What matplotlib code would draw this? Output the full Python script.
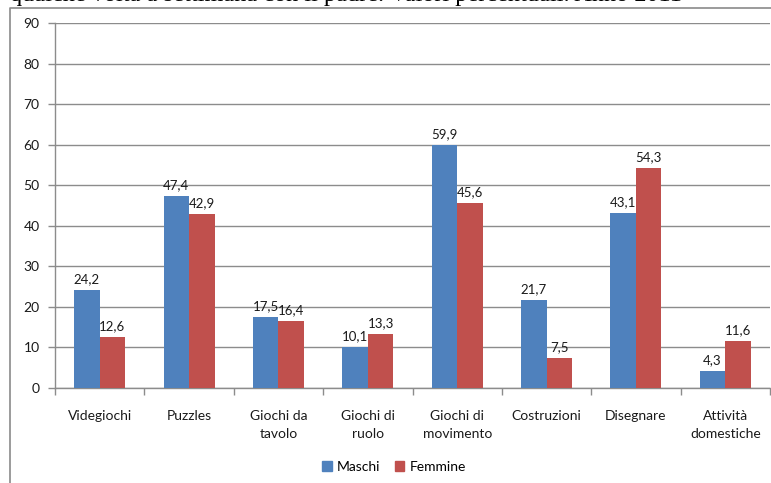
import matplotlib.pyplot as plt
import numpy as np
from matplotlib.lines import Line2D
from matplotlib.patches import Patch

# ---------- data ----------
categories = ["Videgiochi", "Puzzles", "Giochi da\ntavolo", "Giochi di\nruolo",
              "Giochi di\nmovimento", "Costruzioni", "Disegnare", "Attività\ndomestiche"]
maschi = [24.2, 47.4, 17.5, 10.1, 59.9, 21.7, 43.1, 4.3]
femmine = [12.6, 42.9, 16.4, 13.3, 45.6, 7.5, 54.3, 11.6]
series_names = ["Maschi", "Femmine"]
caption = "qualche volta a settimana con il padre. Valori percentuali. Anno 2011"

BLUE = "#4F81BD"
RED = "#C0504D"
GRID = "#8C8C8C"
FONT = "Lato"

W, H = 771, 483
fig = plt.figure(figsize=(W / 100, H / 100), dpi=100)

# plot area in pixel coordinates
left, right, top, bottom = 55, 770, 23, 388
ax = fig.add_axes([left / W, 1 - bottom / H, (right - left) / W, (bottom - top) / H])

x = np.arange(len(categories))
bw = 0.285
b1 = ax.bar(x - bw / 2, maschi, bw, color=BLUE, zorder=3)
b2 = ax.bar(x + bw / 2, femmine, bw, color=RED, zorder=3)

for bars, vals in ((b1, maschi), (b2, femmine)):
    for rect, v in zip(bars, vals):
        ax.text(rect.get_x() + rect.get_width() / 2, v + 1.2, f"{v:.1f}".replace(".", ","),
                ha="center", va="bottom", fontsize=9.5, family=FONT, color="#1a1a1a")

ax.set_xlim(-0.5, len(categories) - 0.5)
ax.set_ylim(0, 90)
ax.set_yticks(range(0, 91, 10))
ax.yaxis.grid(True, color=GRID, linewidth=1, zorder=0)
ax.set_axisbelow(True)

# boundaries get tick marks, category centres get the labels
ax.set_xticks(np.arange(-0.5, len(categories)), labels=[])
ax.set_xticks(x, labels=categories, minor=True)
ax.tick_params(axis="x", which="major", length=5, color=GRID, width=1)
ax.tick_params(axis="x", which="minor", length=0, pad=16)
ax.tick_params(axis="y", length=5, color=GRID, width=1, pad=6)
for lab in ax.get_xticklabels(minor=True) + ax.get_yticklabels():
    lab.set_fontfamily(FONT)
    lab.set_fontsize(10)
    lab.set_color("#1a1a1a")
for lab in ax.get_xticklabels(minor=True):
    lab.set_linespacing(1.6)

for side in ("top", "right"):
    ax.spines[side].set_visible(False)
for side in ("left", "bottom"):
    ax.spines[side].set_color(GRID)
    ax.spines[side].set_linewidth(1)

# legend below the categories
handles = [Patch(color=BLUE), Patch(color=RED)]
fig.legend(handles, series_names, loc="center", bbox_to_anchor=(394 / W, 1 - 467 / H),
           ncol=2, frameon=False, handlelength=0.7, handleheight=0.7, handletextpad=0.4,
           columnspacing=1.0, prop={"family": FONT, "size": 10})

# outer chart frame
fig.add_artist(Line2D([10 / W, 10 / W, 1], [0, 1 - 8 / H, 1 - 8 / H],
                      transform=fig.transFigure, color="#8a8a8a", linewidth=1.2))

# running text above the chart, cut by the page edge
fig.text(10 / W, 1 - 1 / H, caption, family="Liberation Serif", fontsize=17.5,
         va="baseline", ha="left", color="black")

fig.savefig("out.png", dpi=100)
